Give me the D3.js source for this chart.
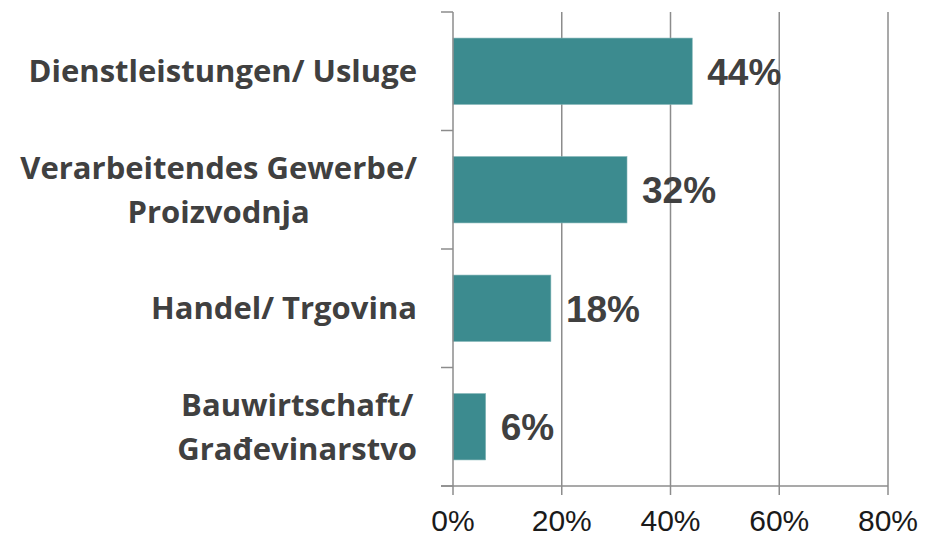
<!DOCTYPE html>
<html>
<head>
<meta charset="utf-8">
<script src="https://cdn.jsdelivr.net/npm/d3@7"></script>
<style>
  body { margin: 0; background: #fff; }
</style>
</head>
<body>
<div id="chart"></div>
<script>
const width = 930;
const height = 537;

// data
const categories = [
  ['Dienstleistungen/ Usluge'],
  ['Verarbeitendes Gewerbe/', 'Proizvodnja'],
  ['Handel/ Trgovina'],
  ['Bauwirtschaft/', 'Građevinarstvo']
];
const values = [0.44, 0.32, 0.18, 0.06];
const valueLabels = ['44%', '32%', '18%', '6%'];
const ticks = [0, 0.2, 0.4, 0.6, 0.8];
const tickLabels = ['0%', '20%', '40%', '60%', '80%'];

const colorBar = '#3c8b8f';
const colorGrid = '#8c8c8c';
const colorText = '#404040';

const plotLeft = 453, plotRight = 888, plotTop = 12, plotBottom = 486;

const svg = d3.select('#chart')
  .append('svg')
  .attr('width', width)
  .attr('height', height);

const x = d3.scaleLinear()
  .domain([0, 0.8])
  .range([plotLeft, plotRight]);

const y = d3.scaleBand()
  .domain(d3.range(categories.length))
  .range([plotTop, plotBottom])
  .paddingInner(0.44)
  .paddingOuter(0.22);

// vertical gridlines
svg.append('g')
  .selectAll('line')
  .data(ticks.slice(1))
  .enter()
  .append('line')
  .attr('x1', d => x(d))
  .attr('x2', d => x(d))
  .attr('y1', plotTop)
  .attr('y2', plotBottom)
  .attr('stroke', colorGrid)
  .attr('stroke-width', 1.5);

// bars
svg.append('g')
  .selectAll('rect')
  .data(values)
  .enter()
  .append('rect')
  .attr('x', x(0))
  .attr('y', (d, i) => y(i))
  .attr('width', d => x(d) - x(0))
  .attr('height', y.bandwidth())
  .attr('fill', colorBar)
  .attr('stroke', '#7fb3b5')
  .attr('stroke-width', 0.6);

// left axis: line + boundary ticks
const bounds = d3.range(categories.length + 1).map(i => plotTop + i * (plotBottom - plotTop) / categories.length);
svg.append('line')
  .attr('x1', plotLeft).attr('x2', plotLeft)
  .attr('y1', plotTop).attr('y2', plotBottom)
  .attr('stroke', colorGrid).attr('stroke-width', 1.5);
svg.append('g')
  .selectAll('line')
  .data(bounds)
  .enter()
  .append('line')
  .attr('x1', plotLeft - 12).attr('x2', plotLeft)
  .attr('y1', d => d).attr('y2', d => d)
  .attr('stroke', colorGrid).attr('stroke-width', 1.5);

// bottom axis
svg.append('line')
  .attr('x1', plotLeft - 12).attr('x2', plotRight)
  .attr('y1', plotBottom).attr('y2', plotBottom)
  .attr('stroke', colorGrid).attr('stroke-width', 1.5);
svg.append('g')
  .selectAll('line')
  .data(ticks)
  .enter()
  .append('line')
  .attr('x1', d => x(d)).attr('x2', d => x(d))
  .attr('y1', plotBottom).attr('y2', plotBottom + 9)
  .attr('stroke', colorGrid).attr('stroke-width', 1.5);

svg.append('g')
  .selectAll('text')
  .data(ticks)
  .enter()
  .append('text')
  .attr('x', d => x(d))
  .attr('y', 531)
  .attr('text-anchor', 'middle')
  .style('font-family', '"Liberation Sans", Arial, sans-serif')
  .style('font-size', '30px')
  .style('fill', '#1a1a1a')
  .text((d, i) => tickLabels[i]);

// value labels
svg.append('g')
  .selectAll('text')
  .data(values)
  .enter()
  .append('text')
  .attr('x', d => x(d) + 15)
  .attr('y', (d, i) => y(i) + y.bandwidth() / 2)
  .attr('dy', '0.36em')
  .style('font-family', '"Liberation Sans", Arial, sans-serif')
  .style('font-weight', 'bold')
  .style('font-size', '37px')
  .style('fill', colorText)
  .text((d, i) => valueLabels[i]);

// category labels (right aligned block, lines centred inside block)
const labelRight = 417;
const lineGap = 44;
const catGroup = svg.append('g');
categories.forEach((lines, i) => {
  const cy = y(i) + y.bandwidth() / 2;
  const texts = lines.map((line, j) => catGroup.append('text')
    .attr('y', cy + (j - (lines.length - 1) / 2) * lineGap)
    .attr('dy', '0.35em')
    .attr('text-anchor', 'middle')
    .style('font-family', '"Open Sans", sans-serif')
    .style('font-weight', 'bold')
    .style('font-size', '31px')
    .style('fill', colorText)
    .text(line));
  const maxW = d3.max(texts, t => t.node().getComputedTextLength());
  texts.forEach(t => t.attr('x', labelRight - maxW / 2));
});
</script>
</body>
</html>
